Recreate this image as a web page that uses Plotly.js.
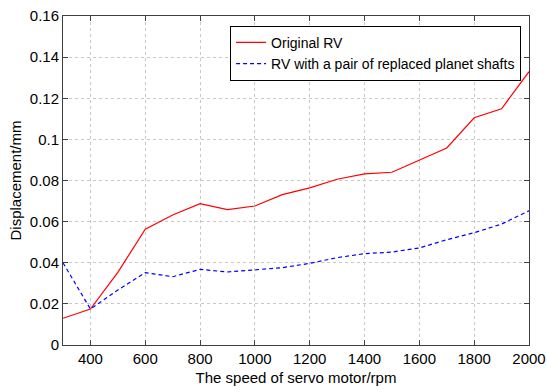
<!DOCTYPE html>
<html>
<head>
<meta charset="utf-8">
<script src="https://cdn.plot.ly/plotly-3.0.1.min.js"></script>
<style>html,body{margin:0;padding:0;background:#fff;}#chart{width:547px;height:392px;}</style>
</head>
<body>
<div id="chart"></div>
<script>
const speed = [300,400,500,600,700,800,900,1000,1100,1200,1300,1400,1500,1600,1700,1800,1900,2000];
const originalRV = [0.013,0.0175,0.0353,0.0563,0.0632,0.0687,0.0658,0.0676,0.0731,0.0764,0.0806,0.0832,0.084,0.090,0.0958,0.1105,0.1149,0.1329];
const replacedRV = [0.040,0.0175,0.0267,0.0352,0.0332,0.0368,0.0355,0.0365,0.0376,0.0397,0.0425,0.0444,0.0452,0.0472,0.0512,0.0546,0.0588,0.0653];
const seriesNames = ["Original RV","RV with a pair of replaced planet shafts"];
const xTicks = [400,600,800,1000,1200,1400,1600,1800,2000];
const yTicks = [0,0.02,0.04,0.06,0.08,0.1,0.12,0.14,0.16];
const yTickText = ["0","0.02","0.04","0.06","0.08","0.1","0.12","0.14","0.16"];

const font = "Liberation Sans, Arial, sans-serif";
const traces = [
  {x: speed, y: originalRV, name: seriesNames[0], mode: "lines", line: {color: "#ff0000", width: 1.2}},
  {x: speed, y: replacedRV, name: seriesNames[1], mode: "lines", line: {color: "#0000ff", width: 1.2, dash: "4px,3px"}}
];
const axisCommon = {
  showline: true, mirror: "allticks", linecolor: "#404040", linewidth: 1,
  ticks: "inside", ticklen: 5, tickcolor: "#404040",
  showgrid: true, gridcolor: "#c8c8c8", griddash: "dot", gridwidth: 1,
  zeroline: false, automargin: false, tickfont: {family: font, size: 15, color: "#000"}
};
const layout = {
  width: 547, height: 392,
  margin: {l: 63, r: 18, t: 16, b: 47, autoexpand: false},
  paper_bgcolor: "#fff", plot_bgcolor: "#fff",
  font: {family: font, color: "#000"},
  showlegend: true,
  legend: {x: 0.983, y: 0.97, xanchor: "right", yanchor: "top", bgcolor: "#fff",
           bordercolor: "#000", borderwidth: 1, font: {family: font, size: 14}, tracegroupgap: 0,
           itemwidth: 30},
  xaxis: Object.assign({}, axisCommon, {range: [300, 2000], tickvals: xTicks,
          title: {text: "The speed of servo motor/rpm", font: {family: font, size: 15}, standoff: 6}}),
  yaxis: Object.assign({}, axisCommon, {range: [0, 0.16], tickvals: yTicks, ticktext: yTickText,
          title: {text: "Displacement/mm", font: {family: font, size: 15}, standoff: 4}})
};
Plotly.newPlot("chart", traces, layout, {displayModeBar: false, staticPlot: true});
</script>
</body>
</html>
